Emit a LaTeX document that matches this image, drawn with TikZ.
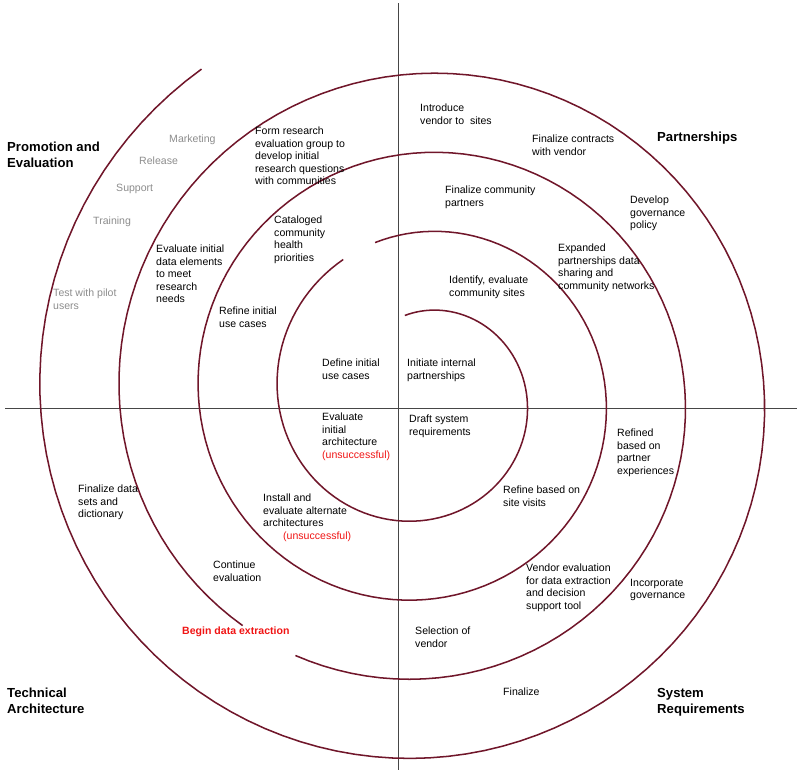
\documentclass[tikz,border=0pt]{standalone}
\usepackage{fontspec}
\setmainfont{Liberation Sans}
\usepackage{xcolor}
\usetikzlibrary{positioning}

\definecolor{spiralred}{RGB}{112,22,42}
\definecolor{axisgray}{RGB}{70,70,70}
\definecolor{softgray}{RGB}{140,140,140}
\definecolor{alertred}{RGB}{240,20,20}

\begin{document}
\begin{tikzpicture}[x=0.03cm, y=-0.03cm,
    spiral/.style={draw=spiralred, line width=1.3pt},
    axis/.style={draw=axisgray, line width=0.7pt},
    lbl/.style={anchor=north west, inner sep=0pt, align=left,
                font=\fontsize{9}{10.6}\selectfont},
    phase/.style={lbl, font=\fontsize{11.2}{13.4}\selectfont\bfseries},
    promo/.style={lbl, text=softgray},
    fail/.style={text=alertred}
  ]
  \useasboundingbox (0,0) rectangle (800,774);

  % ===== Quadrant axes =====
  \draw[axis] (398,3) -- (398,770);
  \draw[axis] (5,408) -- (797,408);

  % ===== Spiral (two gaps behind labels) =====
  \draw[spiral] plot[domain=-12:330, samples=120]
    ({422+(85+0.22*\x)*cos(90-\x)}, {396-(85+0.22*\x)*sin(90-\x)});
  \draw[spiral] plot[domain=343:926, samples=200]
    ({422+(85+0.22*\x)*cos(90-\x)}, {396-(85+0.22*\x)*sin(90-\x)});
  \draw[spiral] plot[domain=938:1406, samples=160]
    ({422+(85+0.22*\x)*cos(90-\x)}, {396-(85+0.22*\x)*sin(90-\x)});

  % ===== Phase titles =====
  \node[phase] (promotion) at (7,142) {Promotion and\\Evaluation};
  \node[phase] (partner) at (657,132) {Partnerships};
  \node[phase] (techarch) at (7,688) {Technical\\Architecture};
  \node[phase] (sysreq) at (657,688) {System\\Requirements};

  % ===== Promotion and evaluation =====
  \node[promo] (marketing) at (169,135) {Marketing};
  \node[promo] (release) at (139,157) {Release};
  \node[promo] (support) at (116,184) {Support};
  \node[promo] (training) at (93,217) {Training};
  \node[promo] (pilot) at (53,289) {Test with pilot\\users};
  \node[lbl] (formgroup) at (255,127) {Form research\\evaluation group to\\develop initial\\research questions\\with communities};
  \node[lbl] (catalog) at (274,216) {Cataloged\\community\\health\\priorities};
  \node[lbl] (evaldata) at (156,245) {Evaluate initial\\data elements\\to meet\\research\\needs};
  \node[lbl] (refineuse) at (219,307) {Refine initial\\use cases};
  \node[lbl] (defineuse) at (322,359) {Define initial\\use cases};

  % ===== Partnerships =====
  \node[lbl] (internal) at (407,359) {Initiate internal\\partnerships};
  \node[lbl] (introduce) at (420,104) {Introduce\\vendor to\ \ sites};
  \node[lbl] (contracts) at (532,135) {Finalize contracts\\with vendor};
  \node[lbl] (community) at (445,186) {Finalize community\\partners};
  \node[lbl] (governpol) at (630,196) {Develop\\governance\\policy};
  \node[lbl] (identify) at (449,276) {Identify, evaluate\\community sites};
  \node[lbl] (expanded) at (558,244) {Expanded\\partnerships data\\sharing and\\community networks};

  % ===== Technical architecture =====
  \node[lbl] (evalarch) at (322,413) {Evaluate\\initial\\architecture\\{\color{alertred}(unsuccessful)}};
  \node[lbl] (datasets) at (78,485) {Finalize data\\sets and\\dictionary};
  \node[lbl] (install) at (263,494) {Install and\\evaluate alternate\\architectures\\\hspace*{0.6cm}{\color{alertred}(unsuccessful)}};
  \node[lbl] (continue) at (213,561) {Continue\\evaluation};
  \node[lbl, text=alertred, font=\fontsize{9}{10.6}\selectfont\bfseries] (extract) at (182,627) {Begin data extraction};

  % ===== System requirements =====
  \node[lbl] (draftreq) at (409,415) {Draft system\\requirements};
  \node[lbl] (refined) at (617,429) {Refined\\based on\\partner\\experiences};
  \node[lbl] (sitevisit) at (503,486) {Refine based on\\site visits};
  \node[lbl] (vendoreval) at (526,564) {Vendor evaluation\\for data extraction\\and decision\\support tool};
  \node[lbl] (incorporate) at (630,579) {Incorporate\\governance};
  \node[lbl] (selection) at (415,627) {Selection of\\vendor};
  \node[lbl] (finalize) at (503,688) {Finalize};

\end{tikzpicture}
\end{document}
